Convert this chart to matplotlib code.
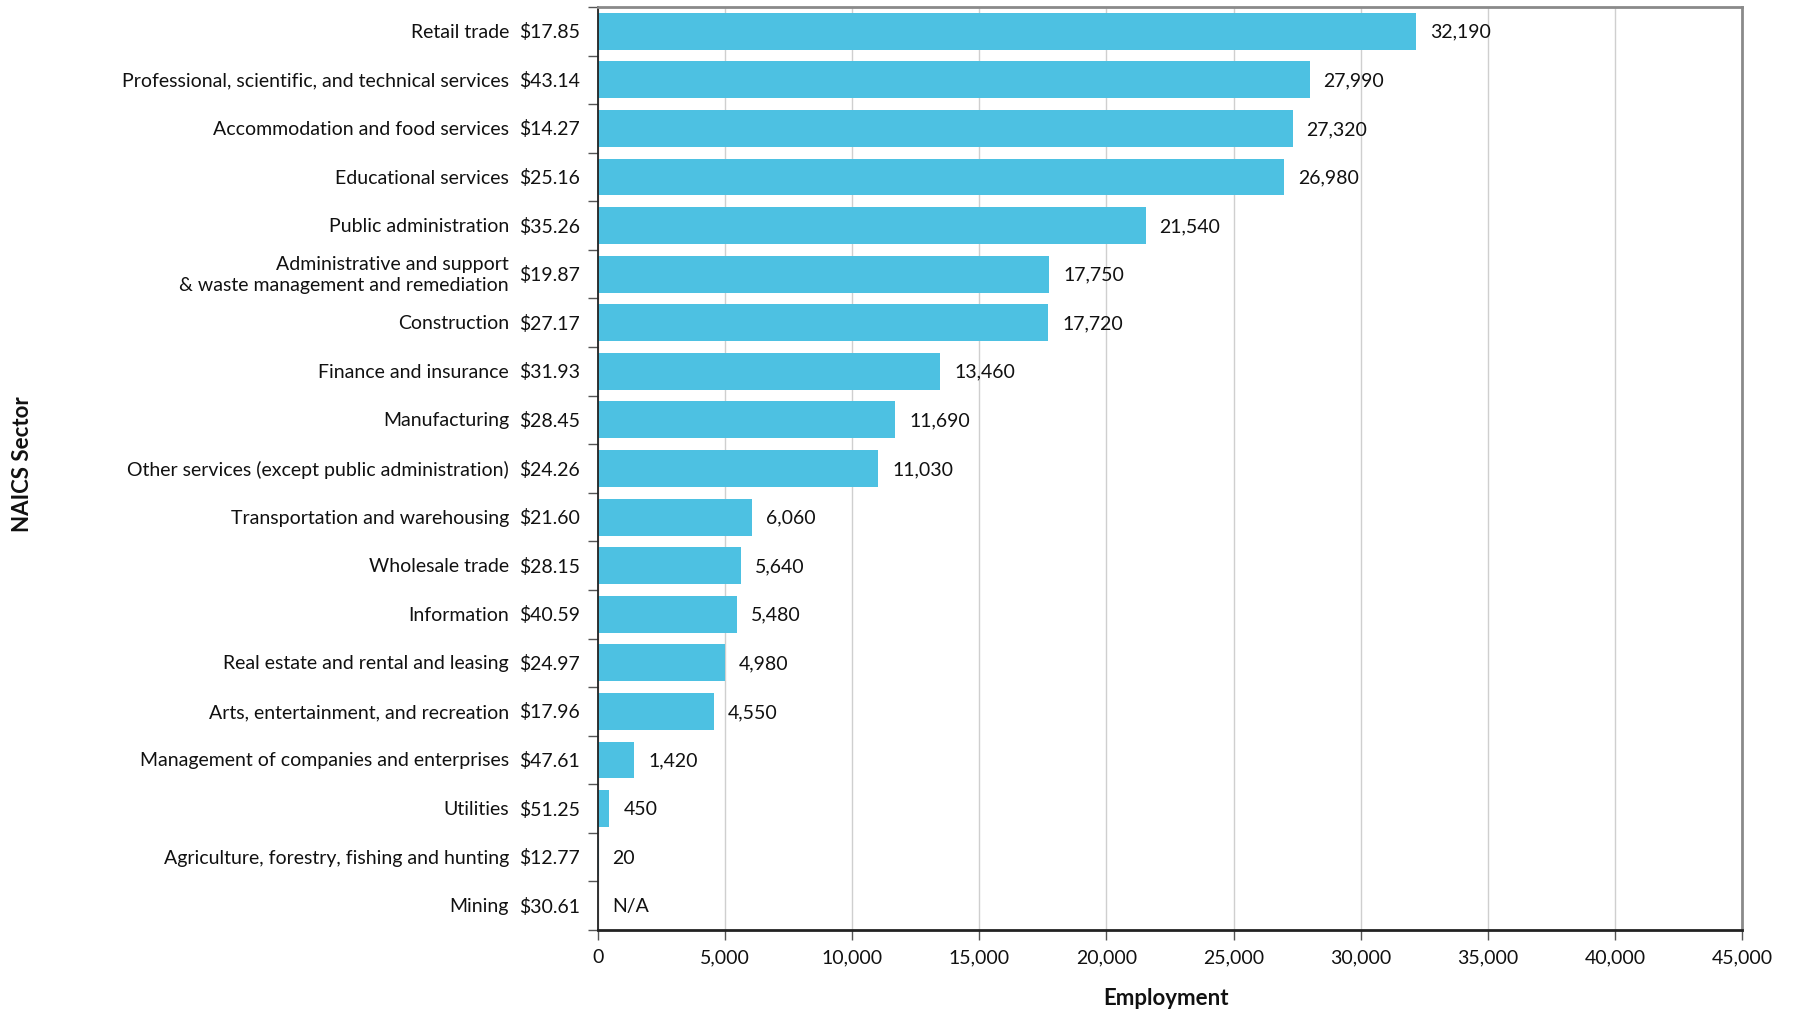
import matplotlib
matplotlib.use("Agg")
import matplotlib.pyplot as plt
import matplotlib.transforms as mtransforms
from matplotlib.ticker import FuncFormatter, MultipleLocator, FixedLocator

plt.rcParams['font.family'] = ['Lato', 'DejaVu Sans']

sectors = [
    "Retail trade",
    "Professional, scientific, and technical services",
    "Accommodation and food services",
    "Educational services",
    "Public administration",
    "Administrative and support\n& waste management and remediation",
    "Construction",
    "Finance and insurance",
    "Manufacturing",
    "Other services (except public administration)",
    "Transportation and warehousing",
    "Wholesale trade",
    "Information",
    "Real estate and rental and leasing",
    "Arts, entertainment, and recreation",
    "Management of companies and enterprises",
    "Utilities",
    "Agriculture, forestry, fishing and hunting",
    "Mining",
]
wages = ["$17.85", "$43.14", "$14.27", "$25.16", "$35.26", "$19.87", "$27.17",
         "$31.93", "$28.45", "$24.26", "$21.60", "$28.15", "$40.59", "$24.97",
         "$17.96", "$47.61", "$51.25", "$12.77", "$30.61"]
employment = [32190, 27990, 27320, 26980, 21540, 17750, 17720, 13460, 11690,
              11030, 6060, 5640, 5480, 4980, 4550, 1420, 450, 20, None]

W, H = 1795, 1012
fig = plt.figure(figsize=(W / 100, H / 100), dpi=100)
L, R, T, B = 598, 1742, 8, 931
ax = fig.add_axes([L / W, 1 - B / H, (R - L) / W, (B - T) / H])

ys = list(range(len(sectors)))
vals = [v if v is not None else 0 for v in employment]
ax.barh(ys, vals, height=0.76, color="#4DC1E2", zorder=2)

ax.set_ylim(len(sectors) - 0.5, -0.5)
ax.set_xlim(0, 45000)
ax.xaxis.set_major_locator(MultipleLocator(5000))
ax.xaxis.set_major_formatter(FuncFormatter(lambda x, p: f"{int(x):,}"))
ax.grid(axis="x", color="#cfcfcf", lw=1.0, zorder=0)
ax.set_axisbelow(True)

ax.set_yticks(ys)
ax.set_yticklabels([])
ax.yaxis.set_minor_locator(FixedLocator([y + 0.5 for y in ys] + [-0.5]))
ax.tick_params(axis="y", which="major", length=0)
ax.tick_params(axis="y", which="minor", length=7, width=1, color="#555555", direction="out")
ax.tick_params(axis="x", which="major", length=7, width=1, color="#555555",
               direction="out", labelsize=14, pad=6, labelcolor="#111111")

ax.spines["left"].set_color("#222222"); ax.spines["left"].set_linewidth(1.3)
ax.spines["bottom"].set_color("#222222"); ax.spines["bottom"].set_linewidth(2)
for s in ["top", "right"]:
    ax.spines[s].set_color("#8a8a8a"); ax.spines[s].set_linewidth(2)

trans = mtransforms.blended_transform_factory(ax.transAxes, ax.transData)
name_x = (509 - L) / (R - L)
wage_x = (580 - L) / (R - L)
for y, name, wage, v in zip(ys, sectors, wages, employment):
    ax.text(name_x, y, name, transform=trans, ha="right", va="center",
            fontsize=14, color="#111111", linespacing=1.3)
    ax.text(wage_x, y, wage, transform=trans, ha="right", va="center",
            fontsize=14, color="#111111")
    label = f"{v:,}" if v is not None else "N/A"
    ax.annotate(label, (v if v is not None else 0, y), xytext=(14, 0),
                textcoords="offset pixels",
                ha="left", va="center", fontsize=14, color="#111111")

fig.text(1166 / W, 1 - 999 / H, "Employment", ha="center", va="center",
         fontsize=16, fontweight="bold", color="#111111")
fig.text(23 / W, 1 - 464 / H, "NAICS Sector", ha="center", va="center",
         rotation=90, fontsize=16, fontweight="bold", color="#111111")

fig.savefig("out.png", dpi=100)
